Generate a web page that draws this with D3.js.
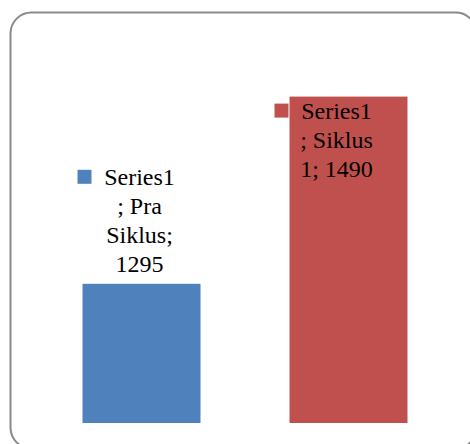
<!DOCTYPE html>
<html>
<head>
<meta charset="utf-8">
<script src="https://cdn.jsdelivr.net/npm/d3@7"></script>
<style>
  html, body { margin: 0; padding: 0; background: #fff; }
  svg { display: block; }
  .lbl { font-family: "Liberation Serif", "Times New Roman", Times, serif; font-size: 24px; }
</style>
</head>
<body>
<svg id="chart" width="470" height="444"></svg>
<script>
// Data
const categories = ["Pra Siklus", "Siklus 1"];
const values = [1295, 1490];
const seriesName = "Series1";
const colors = ["#4f81bd", "#c0504d"];
// Data label lines for each bar
const labelLines = [
  ["Series1", "; Pra", "Siklus;", "1295"],
  ["Series1", "; Siklus", "1; 1490"]
];

const svg = d3.select("#chart");

// Chart frame with rounded corners (extends past the right and bottom edges)
svg.append("rect")
  .attr("x", 10.5).attr("y", 12.5)
  .attr("width", 466).attr("height", 436)
  .attr("rx", 21).attr("ry", 21)
  .attr("fill", "#fff")
  .attr("stroke", "#8a8a8a")
  .attr("stroke-width", 2);

const x = d3.scaleBand()
  .domain(categories)
  .range([38, 452])
  .paddingInner(0.43)
  .paddingOuter(0.215);

const y = d3.scaleLinear()
  .domain([1150, 1500])
  .range([423, 87]);

// Bars
svg.selectAll("rect.bar")
  .data(values)
  .enter().append("rect")
  .attr("class", "bar")
  .attr("x", (d, i) => x(categories[i]))
  .attr("width", x.bandwidth())
  .attr("y", d => y(d))
  .attr("height", d => y.range()[0] - y(d))
  .attr("fill", (d, i) => colors[i]);

// Data labels with legend keys
const lineH = 29;
const labelCfg = [
  // blue label sits above its bar
  { cx: x(categories[0]) + x.bandwidth() / 2 - 2, top: y(values[0]) - 107 },
  // red label sits inside the top of its bar
  { cx: x(categories[1]) + x.bandwidth() / 2 - 12, top: y(values[1]) + 14 }
];

labelLines.forEach((lines, i) => {
  const cfg = labelCfg[i];
  const g = svg.append("g");
  g.append("rect")
    .attr("x", cfg.cx - 62)
    .attr("y", cfg.top - 7)
    .attr("width", 14).attr("height", 14)
    .attr("fill", colors[i]);
  g.selectAll("text")
    .data(lines)
    .enter().append("text")
    .attr("class", "lbl")
    .attr("x", cfg.cx)
    .attr("y", (d, j) => cfg.top + j * lineH)
    .attr("dy", "0.35em")
    .attr("text-anchor", "middle")
    .attr("fill", "#000")
    .text(d => d);
});
</script>
</body>
</html>
